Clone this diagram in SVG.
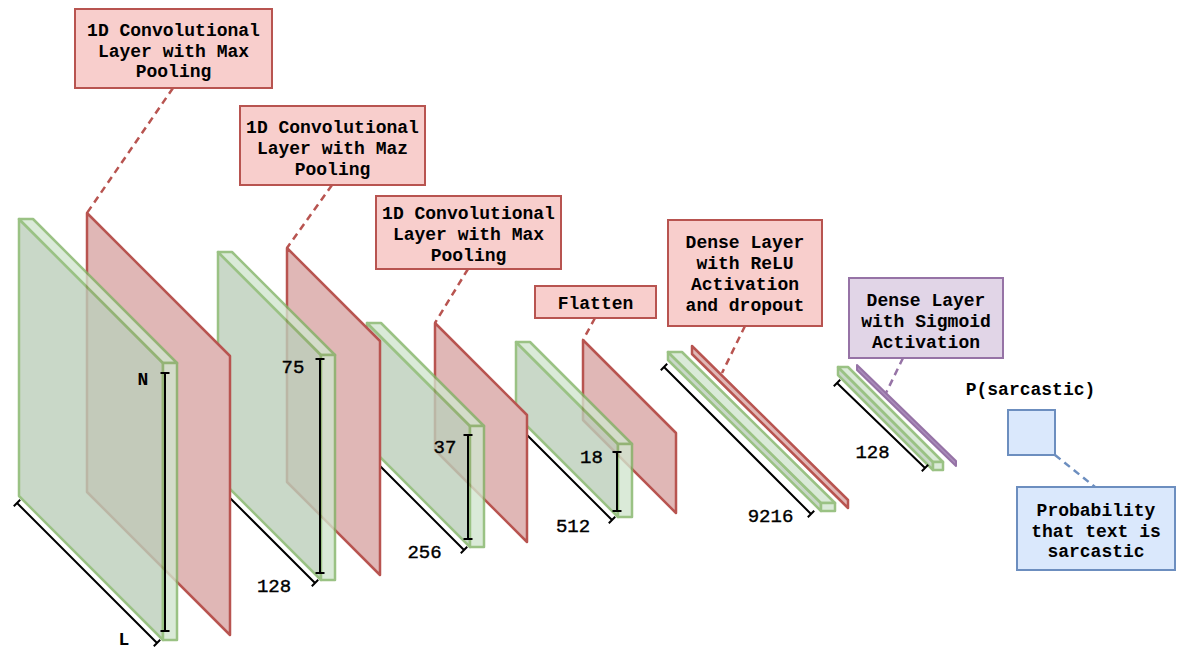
<svg xmlns="http://www.w3.org/2000/svg" width="1187" height="665" viewBox="0 0 1187 665">
<defs>
<style>
.slab{opacity:0.8}
.gl{fill:#bccfbb;stroke:#82b366;stroke-width:2.5;stroke-linejoin:round}
.gs{fill:#d2e6cf;stroke:#82b366;stroke-width:2.5;stroke-linejoin:round}
.rp{fill:#e0b7b6;stroke:#b85450;stroke-width:2.5;stroke-linejoin:round}
.pp{fill:#a98cba;stroke:#9673a6;stroke-width:2;stroke-linejoin:round}
.dim{stroke:#000;stroke-width:2;fill:none}
.lbl{fill:#f8cecc;stroke:#b85450;stroke-width:2}
.lblp{fill:#e1d5e7;stroke:#9673a6;stroke-width:2}
.lblb{fill:#dae8fc;stroke:#6c8ebf;stroke-width:2}
.t{font-family:"Liberation Mono","Courier New",monospace;font-weight:bold;font-size:18px;fill:#000;text-anchor:middle}
.n{font-family:"Liberation Mono","Courier New",monospace;font-size:19px;fill:#000;stroke:#000;stroke-width:0.4;text-anchor:middle}
.dr{stroke:#b85450;stroke-width:2.5;stroke-dasharray:7 5;fill:none}
.dp{stroke:#9673a6;stroke-width:2.5;stroke-dasharray:7 5;fill:none}
.db{stroke:#6c8ebf;stroke-width:2.5;stroke-dasharray:7 5;fill:none}
</style>
</defs>
<rect width="1187" height="665" fill="#ffffff"/>

<!-- layer 4 (back) -->
<g id="pool4">
<polygon class="rp" points="583,340 676,433 676,513 583,420"/>
</g>
<g id="conv4">
<g class="slab">
<polygon class="gl" points="516,342 618,444 618,517 516,415"/>
<polygon class="gs" points="516,342 530,342 632,444 618,444"/>
<polygon class="gs" points="618,444 632,444 632,517 618,517"/>
</g>
<path class="dim" d="M514,422 L612,520 M510.8,425.2 L517.2,418.8 M608.8,523.2 L615.2,516.8 M617,452 V511 M612.5,452 H621.5 M612.5,511 H621.5"/>
</g>

<!-- layer 3 -->
<g id="pool3">
<polygon class="rp" points="435,323 527,415 527,542 435,450"/>
</g>
<g id="conv3">
<g class="slab">
<polygon class="gl" points="367,323 470,426 470,547 367,444"/>
<polygon class="gs" points="367,323 381,323 484,426 470,426"/>
<polygon class="gs" points="470,426 484,426 484,547 470,547"/>
</g>
<path class="dim" d="M365,451 L464,550 M361.8,454.2 L368.2,447.8 M460.8,553.2 L467.2,546.8 M468,435 V539 M463.5,435 H472.5 M463.5,539 H472.5"/>
</g>

<!-- layer 2 -->
<g id="pool2">
<polygon class="rp" points="287,248 380,341 380,575 287,482"/>
</g>
<g id="conv2">
<g class="slab">
<polygon class="gl" points="218,252 321,355 321,580 218,477"/>
<polygon class="gs" points="218,252 232,252 335,355 321,355"/>
<polygon class="gs" points="321,355 335,355 335,580 321,580"/>
</g>
<path class="dim" d="M216,484 L315,583 M212.8,487.2 L219.2,480.8 M311.8,586.2 L318.2,579.8 M320,359 V573 M315.5,359 H324.5 M315.5,573 H324.5"/>
</g>

<!-- layer 1 (front) -->
<g id="pool1">
<polygon class="rp" points="87,213 230,356 230,635 87,492"/>
</g>
<g id="conv1">
<g class="slab">
<polygon class="gl" points="19,219 163,363 163,640 19,496"/>
<polygon class="gs" points="19,219 33,219 177,363 163,363"/>
<polygon class="gs" points="163,363 177,363 177,640 163,640"/>
</g>
<path class="dim" d="M17,503 L157,643 M13.8,506.2 L20.2,499.8 M153.8,646.2 L160.2,639.8 M165,373 V631 M160.5,373 H169.5 M160.5,631 H169.5"/>
</g>

<!-- dense relu -->
<g id="dense1">
<polygon class="rp" points="692,346 848,500 848,508 692,354"/>
<g class="slab">
<polygon class="gl" points="668,352 821,503 821,511 668,360"/>
<polygon class="gs" points="668,352 682,352 835,503 821,503"/>
<polygon class="gs" points="821,503 835,503 835,511 821,511"/>
</g>
<path class="dim" d="M664,367 L811,514 M660.8,370.2 L667.2,363.8 M807.8,517.2 L814.2,510.8"/>
</g>

<!-- dense sigmoid -->
<g id="dense2">
<polygon class="pp" points="857,365 956,461 956,466 857,370"/>
<g class="slab">
<polygon class="gl" points="838,367 933,462 933,470 838,375"/>
<polygon class="gs" points="838,367 848,367 943,462 933,462"/>
<polygon class="gs" points="933,462 943,462 943,470 933,470"/>
</g>
<path class="dim" d="M837,383 L925,468 M833.8,386.2 L840.2,379.8 M921.8,471.2 L928.2,464.8"/>
</g>

<!-- output -->
<g id="output">
<rect class="lblb" x="1008" y="410" width="47" height="45"/>
</g>

<!-- connectors -->
<g id="connectors">
<path class="dr" d="M173,88 L87,213"/>
<path class="dr" d="M332,185 L287,248"/>
<path class="dr" d="M468,269 L435,323"/>
<path class="dr" d="M595,318 L583,340"/>
<path class="dr" d="M745,326 L722,373"/>
<path class="dp" d="M903,358 L886,393"/>
<path class="db" d="M1055,455 L1095,487"/>
</g>

<!-- label boxes -->
<g id="label-conv1">
<rect class="lbl" x="75" y="9" width="197" height="79"/>
<text class="t" x="173.5" y="36">1D Convolutional</text>
<text class="t" x="173.5" y="57">Layer with Max</text>
<text class="t" x="173.5" y="77">Pooling</text>
</g>
<g id="label-conv2">
<rect class="lbl" x="240" y="106" width="185" height="79"/>
<text class="t" x="332.5" y="133">1D Convolutional</text>
<text class="t" x="332.5" y="154">Layer with Maz</text>
<text class="t" x="332.5" y="175">Pooling</text>
</g>
<g id="label-conv3">
<rect class="lbl" x="376" y="196" width="185" height="73"/>
<text class="t" x="468.5" y="219">1D Convolutional</text>
<text class="t" x="468.5" y="240">Layer with Max</text>
<text class="t" x="468.5" y="261">Pooling</text>
</g>
<g id="label-flatten">
<rect class="lbl" x="535" y="286" width="121" height="32"/>
<text class="t" x="595.5" y="309">Flatten</text>
</g>
<g id="label-dense1">
<rect class="lbl" x="668" y="220" width="154" height="106"/>
<text class="t" x="745" y="248">Dense Layer</text>
<text class="t" x="745" y="269">with ReLU</text>
<text class="t" x="745" y="290">Activation</text>
<text class="t" x="745" y="311">and dropout</text>
</g>
<g id="label-dense2">
<rect class="lblp" x="849" y="278" width="154" height="80"/>
<text class="t" x="926" y="306">Dense Layer</text>
<text class="t" x="926" y="327">with Sigmoid</text>
<text class="t" x="926" y="348">Activation</text>
</g>
<g id="label-output">
<rect class="lblb" x="1017" y="487" width="158" height="83"/>
<text class="t" x="1096" y="516">Probability</text>
<text class="t" x="1096" y="537">that text is</text>
<text class="t" x="1096" y="557">sarcastic</text>
</g>

<!-- dimension texts -->
<g id="dim-labels">
<text class="t" x="143" y="385">N</text>
<text class="t" x="124" y="645">L</text>
<text class="n" x="293" y="373">75</text>
<text class="n" x="274" y="592">128</text>
<text class="n" x="445" y="453">37</text>
<text class="n" x="424.5" y="558">256</text>
<text class="n" x="591.5" y="463">18</text>
<text class="n" x="573" y="532">512</text>
<text class="n" x="770.5" y="522">9216</text>
<text class="n" x="872.5" y="458">128</text>
<text class="t" x="1030.5" y="395">P(sarcastic)</text>
</g>
</svg>
